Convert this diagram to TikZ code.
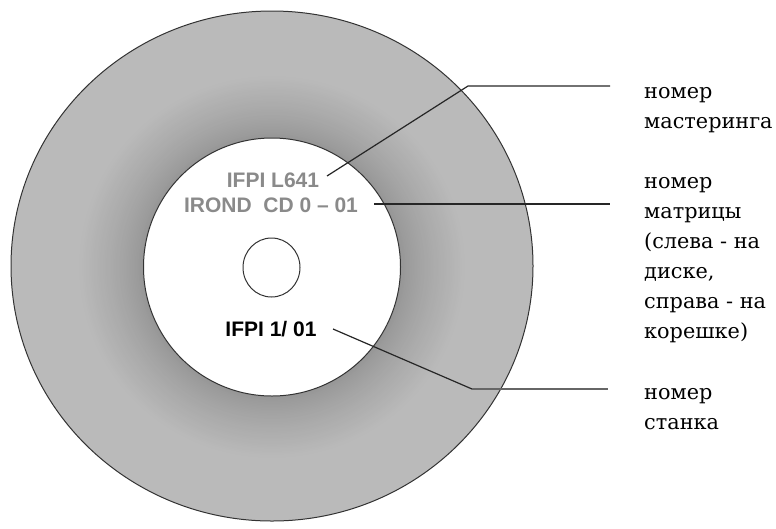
\documentclass[tikz,border=0pt]{standalone}
\usepackage{fontspec}
\newfontfamily\labfont{DejaVu Serif}
\newfontfamily\discfont{Liberation Sans}
\usetikzlibrary{shapes.geometric}
\definecolor{ringlight}{HTML}{BABABA}
\definecolor{ringdark}{HTML}{969696}
\definecolor{disctext}{HTML}{8A8A8A}
\definecolor{edge}{HTML}{333333}
\tikzset{
  disk/.style={ellipse, draw=edge, line width=1pt, inner sep=0pt},
  disctxt/.style={font=\discfont\bfseries\fontsize{21}{24}\selectfont, inner sep=0pt, anchor=base},
  sidelab/.style={font=\labfont\fontsize{20.8}{30}\selectfont, align=left, inner sep=0pt, anchor=base west},
  lead/.style={line width=1.2pt, draw=black!85}
}
\begin{document}
\begin{tikzpicture}[x=1pt,y=-1pt]
\useasboundingbox (0,0) rectangle (776,528);
\node[disk, fill=ringlight, minimum width=522pt, minimum height=510pt] (outer) at (272,266) {};
% darker halo round the label area
\foreach \i in {40,39,...,0}{
  \pgfmathsetmacro\p{100*(\i/40)^0.8}
  \pgfmathsetmacro\rx{130+1.6*\i}
  \pgfmathsetmacro\ry{130+1.55*\i}
  \fill[ringlight!\p!ringdark] (272,267) ellipse [x radius=\rx, y radius=\ry];
}
\node[disk, fill=white, minimum width=257pt, minimum height=258pt] (inner) at (272,267) {};
\node[disk, fill=white, minimum width=57pt, minimum height=59pt] (hole) at (271.5,267.5) {};
\node[disctxt, text=disctext] (t1) at (273,187) {IFPI L641};
\node[disctxt, text=disctext] (t2) at (271,212) {IROND\ \ CD 0 – 01};
\node[disctxt, text=black] (t3) at (271,336) {IFPI 1/ 01};
\node[sidelab] (r1) at (644,128) {номер\\мастеринга};
\node[sidelab] (r2) at (644,338) {номер\\матрицы\\(слева - на\\диске,\\справа - на\\корешке)};
\node[sidelab] (r3) at (644,429) {номер\\станка};
\coordinate (s1) at (327,176);
\coordinate (b1) at (468,86);
\coordinate (e1) at (610,86);
\coordinate (s2) at (374,204);
\coordinate (e2) at (610,204);
\coordinate (s3) at (333,329);
\coordinate (b3) at (472,389);
\coordinate (e3) at (608,389);
\draw[lead] (s1) -- (b1) -- (e1);
\draw[lead] (s2) -- (e2);
\draw[lead] (s3) -- (b3);
\draw[line width=2pt, draw=black!60] (b3) -- (e3);
\end{tikzpicture}
\end{document}
